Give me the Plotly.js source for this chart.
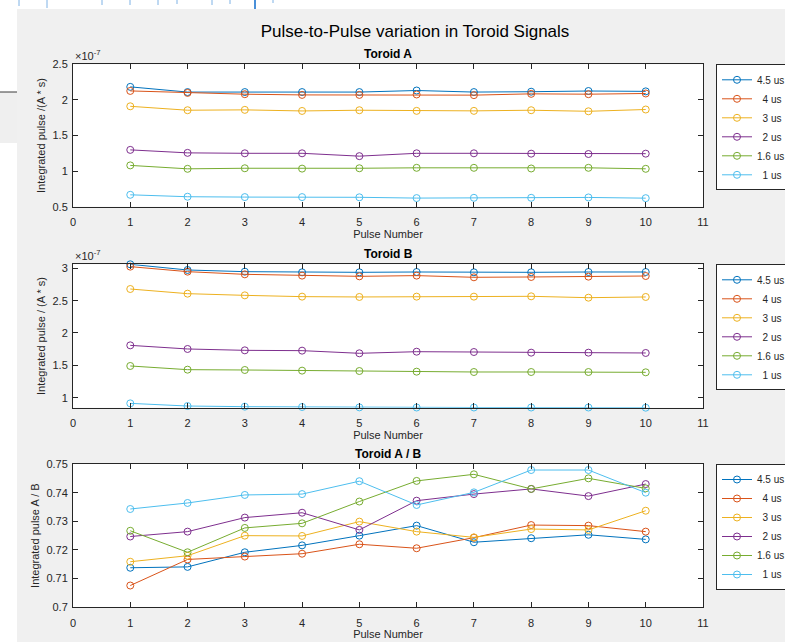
<!DOCTYPE html>
<html>
<head>
<meta charset="utf-8">
<script src="https://cdn.plot.ly/plotly-3.0.1.min.js"></script>
<style>
  html, body { margin: 0; padding: 0; background: #ffffff; }
  #chart { width: 785px; height: 642px; }
</style>
</head>
<body>
<div id="chart"></div>
<script>
// Pulse numbers (x axis)
const pulses = [1, 2, 3, 4, 5, 6, 7, 8, 9, 10];
const xTicks = [0, 1, 2, 3, 4, 5, 6, 7, 8, 9, 10, 11];

// Series labels and colours (pulse width)
const seriesNames = ['4.5 us', '4 us', '3 us', '2 us', '1.6 us', '1 us'];
const seriesColors = ['#0072BD', '#D95319', '#EDB120', '#7E2F8E', '#77AC30', '#4DBEEE'];

// Toroid A integrated pulse, in units of 1e-7 A*s
const toroidA_45 = [2.183, 2.110, 2.110, 2.110, 2.110, 2.132, 2.110, 2.115, 2.125, 2.120];
const toroidA_4  = [2.126, 2.098, 2.080, 2.070, 2.070, 2.076, 2.067, 2.085, 2.080, 2.090];
const toroidA_3  = [1.910, 1.855, 1.860, 1.845, 1.855, 1.846, 1.846, 1.855, 1.840, 1.865];
const toroidA_2  = [1.298, 1.256, 1.250, 1.250, 1.210, 1.250, 1.250, 1.245, 1.240, 1.245];
const toroidA_16 = [1.080, 1.032, 1.040, 1.035, 1.040, 1.046, 1.046, 1.037, 1.046, 1.032];
const toroidA_1  = [0.667, 0.640, 0.635, 0.635, 0.632, 0.621, 0.625, 0.625, 0.630, 0.620];

// Toroid B integrated pulse, in units of 1e-7 A*s
const toroidB_45 = [3.062, 2.974, 2.948, 2.938, 2.938, 2.943, 2.938, 2.938, 2.943, 2.943];
const toroidB_4  = [3.026, 2.948, 2.907, 2.887, 2.876, 2.887, 2.861, 2.866, 2.871, 2.881];
const toroidB_3  = [2.680, 2.608, 2.582, 2.562, 2.557, 2.562, 2.562, 2.567, 2.546, 2.557];
const toroidB_2  = [1.809, 1.753, 1.732, 1.727, 1.686, 1.711, 1.706, 1.696, 1.696, 1.691];
const toroidB_16 = [1.490, 1.433, 1.428, 1.418, 1.412, 1.402, 1.397, 1.397, 1.397, 1.392];
const toroidB_1  = [0.912, 0.871, 0.861, 0.856, 0.850, 0.848, 0.848, 0.848, 0.848, 0.845];

// Ratio A / B
const ratio_45 = [0.7138, 0.7141, 0.7192, 0.7216, 0.7250, 0.7285, 0.7227, 0.7241, 0.7253, 0.7237];
const ratio_4  = [0.7076, 0.7167, 0.7177, 0.7187, 0.7220, 0.7206, 0.7243, 0.7287, 0.7285, 0.7264];
const ratio_3  = [0.7159, 0.7180, 0.7250, 0.7249, 0.7299, 0.7264, 0.7244, 0.7273, 0.7270, 0.7337];
const ratio_2  = [0.7247, 0.7264, 0.7313, 0.7330, 0.7270, 0.7372, 0.7395, 0.7413, 0.7388, 0.7430];
const ratio_16 = [0.7267, 0.7192, 0.7277, 0.7293, 0.7369, 0.7441, 0.7464, 0.7413, 0.7450, 0.7415];
const ratio_1  = [0.7343, 0.7364, 0.7392, 0.7395, 0.7440, 0.7357, 0.7401, 0.7479, 0.7479, 0.7400];

// Y tick values for each panel
const yTicksA = [0.5, 1, 1.5, 2, 2.5];
const yTicksB = [1, 1.5, 2, 2.5, 3];
const yTicksR = [0.7, 0.71, 0.72, 0.73, 0.74, 0.75];

const seriesA = [toroidA_45, toroidA_4, toroidA_3, toroidA_2, toroidA_16, toroidA_1];
const seriesB = [toroidB_45, toroidB_4, toroidB_3, toroidB_2, toroidB_16, toroidB_1];
const seriesR = [ratio_45, ratio_4, ratio_3, ratio_2, ratio_16, ratio_1];

// Right-align the legend labels by padding the shorter ones
const maxLen = Math.max(...seriesNames.map(s => s.length));
function legendLabel(s) {
  return '\u00a0'.repeat(maxLen - s.length) + s;
}

const W = 785, H = 642;
const FONT = 'Liberation Sans, Arial, Helvetica, sans-serif';
const INK = '#262626';

const traces = [];
function addPanel(series, idx) {
  const sfx = idx === 1 ? '' : String(idx);
  series.forEach((vals, i) => {
    traces.push({
      type: 'scatter',
      mode: 'lines+markers',
      x: pulses,
      y: vals,
      name: legendLabel(seriesNames[i]),
      xaxis: 'x' + sfx,
      yaxis: 'y' + sfx,
      legend: 'legend' + sfx,
      cliponaxis: false,
      line: { color: seriesColors[i], width: 1 },
      marker: { symbol: 'circle-open', size: 7, color: seriesColors[i], line: { width: 1, color: seriesColors[i] } }
    });
  });
}
addPanel(seriesA, 1);
addPanel(seriesB, 2);
addPanel(seriesR, 3);

// Panel geometry (pixels from top-left)
const axLeft = 73, axRight = 703;
const panels = [
  { top: 64.3, bottom: 206.7 },
  { top: 264.3, bottom: 407.7 },
  { top: 464, bottom: 607.3 }
];
const xDom = [axLeft / W, axRight / W];
const yDom = p => [1 - p.bottom / H, 1 - p.top / H];

const allB = [].concat(...seriesB);
const rangeB = [Math.min(...allB), Math.max(...allB)];

function xAxis(anchor) {
  return {
    domain: xDom, anchor: anchor, range: [0, 11],
    tickvals: xTicks, ticks: 'inside', ticklen: 5, tickwidth: 1, tickcolor: INK,
    ticklabelstandoff: 5,
    showline: true, linecolor: INK, linewidth: 1, mirror: 'allticks',
    showgrid: false, zeroline: false, automargin: false,
    tickfont: { family: FONT, size: 11, color: INK },
    title: { text: 'Pulse Number', font: { family: FONT, size: 11, color: INK }, standoff: 1 }
  };
}
function yAxis(anchor, dom, range, ticks, title) {
  return {
    domain: dom, anchor: anchor, range: range,
    tickvals: ticks, ticks: 'inside', ticklen: 5, tickwidth: 1, tickcolor: INK,
    ticklabelstandoff: 2,
    showline: true, linecolor: INK, linewidth: 1, mirror: 'allticks',
    showgrid: false, zeroline: false, automargin: false,
    tickfont: { family: FONT, size: 11, color: INK },
    title: { text: title, font: { family: FONT, size: 11, color: INK }, standoff: 4 }
  };
}
function legendAt(p) {
  return {
    x: 716 / W, xanchor: 'left', y: 1 - p.top / H, yanchor: 'top',
    bgcolor: '#ffffff', bordercolor: INK, borderwidth: 1,
    font: { family: FONT, size: 10, color: INK }, tracegroupgap: 0
  };
}

const subTitles = ['Toroid A', 'Toroid B', 'Toroid A / B'];
const annotations = panels.map((p, i) => ({
  text: '<b>' + subTitles[i] + '</b>',
  xref: 'paper', yref: 'paper', x: (xDom[0] + xDom[1]) / 2, y: 1 - p.top / H,
  xanchor: 'center', yanchor: 'bottom', yshift: 1, showarrow: false,
  font: { family: FONT, size: 12, color: '#000000' }
}));
// Exponent labels for the two integrated-pulse panels
[0, 1].forEach(i => annotations.push({
  text: '\u00d710<sup>-7</sup>',
  xref: 'paper', yref: 'paper', x: axLeft / W, y: 1 - panels[i].top / H,
  xanchor: 'left', yanchor: 'bottom', showarrow: false,
  font: { family: FONT, size: 11, color: INK }
}));

// Window surround: white strips, a side panel and small blue markers along the top edge
const shapes = [
  { type: 'rect', xref: 'paper', yref: 'paper', x0: 0, x1: 1, y0: 1 - 9 / H, y1: 1, fillcolor: '#ffffff', line: { width: 0 }, layer: 'below' },
  { type: 'rect', xref: 'paper', yref: 'paper', x0: 0, x1: 17 / W, y0: 0, y1: 1, fillcolor: '#ffffff', line: { width: 0 }, layer: 'below' },
  { type: 'rect', xref: 'paper', yref: 'paper', x0: 0, x1: 17 / W, y0: 1 - 143 / H, y1: 1 - 92 / H, fillcolor: '#efefef', line: { width: 0 }, layer: 'below' },
  { type: 'line', xref: 'paper', yref: 'paper', x0: 0, x1: 17 / W, y0: 1 - 92 / H, y1: 1 - 92 / H, line: { color: '#3a3a3a', width: 1 } }
];
const topMarks = [[19, 6], [47, 8], [102, 5], [130, 5], [158, 5], [177, 4], [212, 5], [230, 4], [255, 9], [273, 3]];
topMarks.forEach(([px, len]) => shapes.push({
  type: 'line', xref: 'paper', yref: 'paper', x0: px / W, x1: px / W, y0: 1, y1: 1 - len / H,
  line: { color: px === 255 ? '#4a90d9' : '#7fb2e5', width: px === 255 ? 2 : 1 }
}));

const layout = {
  width: W, height: H, autosize: false,
  margin: { l: 0, r: 0, t: 0, b: 0, pad: 0, autoexpand: false },
  paper_bgcolor: '#f0f0f0', plot_bgcolor: '#ffffff',
  font: { family: FONT, color: INK },
  title: {
    text: 'Pulse-to-Pulse variation in Toroid Signals',
    x: 415 / W, xanchor: 'center', y: 1 - 31.5 / H, yanchor: 'middle',
    font: { family: FONT, size: 17, color: '#000000' }
  },
  showlegend: true,
  xaxis: xAxis('y'),
  yaxis: yAxis('x', yDom(panels[0]), [0.5, 2.5], yTicksA, 'Integrated pulse /(A * s)'),
  xaxis2: xAxis('y2'),
  yaxis2: yAxis('x2', yDom(panels[1]), rangeB, yTicksB, 'Integrated pulse / (A * s)'),
  xaxis3: xAxis('y3'),
  yaxis3: yAxis('x3', yDom(panels[2]), [0.7, 0.75], yTicksR, 'Integrated pulse A / B'),
  legend: legendAt(panels[0]),
  legend2: legendAt(panels[1]),
  legend3: legendAt(panels[2]),
  annotations: annotations,
  shapes: shapes
};

Plotly.newPlot('chart', traces, layout, { displayModeBar: false, staticPlot: true });
</script>
</body>
</html>
